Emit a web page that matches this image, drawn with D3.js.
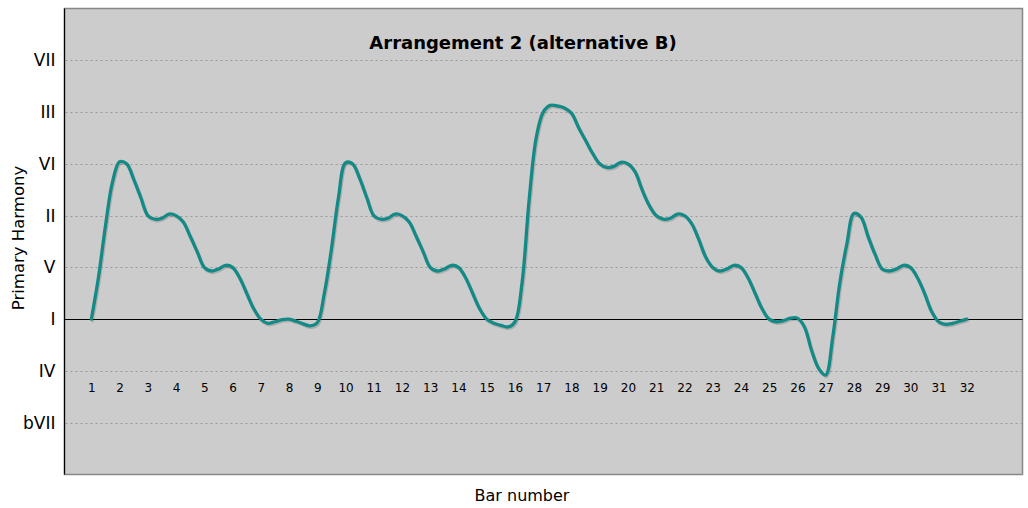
<!DOCTYPE html>
<html><head><meta charset="utf-8">
<script src="https://cdn.jsdelivr.net/npm/d3@7"></script>
<style>body{margin:0;background:#fff;} svg{display:block;}</style>
</head><body>
<svg id="c" width="1028" height="508"></svg>
<script>
const title = "Arrangement 2 (alternative B)";
const yTickValues = [-2, -1, 0, 1, 2, 3, 4, 5];
const yTickLabels = ["bVII", "IV", "I", "V", "II", "VI", "III", "VII"];
const barNumbers = d3.range(1, 33);
// harmony value sampled every quarter bar, starting at bar 1
const harmony = [
  0, 0.8, 1.8, 2.65,         // 1
  3.04, 3.0, 2.7, 2.35,      // 2
  2.0, 1.93, 1.95, 2.03,     // 3
  2.0, 1.88, 1.6, 1.3,       // 4
  1.0, 0.93, 0.97, 1.04,     // 5
  1.0, 0.8, 0.5, 0.2,        // 6
  0.0, -0.08, -0.05, -0.01,  // 7
  0.0, -0.04, -0.09, -0.13,  // 8
  -0.07, 0.5, 1.35, 2.35,    // 9
  3.02, 3.0, 2.72, 2.35,     // 10
  2.0, 1.93, 1.95, 2.03,     // 11
  2.0, 1.88, 1.6, 1.3,       // 12
  1.0, 0.93, 0.97, 1.04,     // 13
  1.0, 0.8, 0.5, 0.2,        // 14
  0.0, -0.08, -0.12, -0.15,  // 15
  -0.05, 0.7, 2.3, 3.5,      // 16
  4.0, 4.13, 4.12, 4.08,     // 17
  3.98, 3.7, 3.45, 3.2,      // 18
  3.0, 2.93, 2.95, 3.03,     // 19
  3.0, 2.85, 2.5, 2.2,       // 20
  2.0, 1.93, 1.95, 2.03,     // 21
  2.0, 1.85, 1.55, 1.2,      // 22
  1.0, 0.93, 0.97, 1.04,     // 23
  1.0, 0.8, 0.5, 0.2,        // 24
  0.0, -0.05, -0.03, 0.02,   // 25
  0.02, -0.15, -0.6, -0.95,  // 26
  -1.08, -0.35, 0.7, 1.45,   // 27
  2.04, 1.97, 1.6, 1.25,     // 28
  0.97, 0.93, 0.97, 1.04,    // 29
  1.0, 0.8, 0.5, 0.15,       // 30
  -0.05, -0.1, -0.08, -0.04, // 31
  0.0                        // 32
];
const data = harmony.map((v, i) => ({bar: 1 + i / 4, v}));

const FONT = "DejaVu Sans, Verdana, sans-serif";
const svg = d3.select("#c");
const L = 64.5, R = 1022.5, T = 8.5, B = 474.5;
const x = d3.scaleLinear().domain([0.05, 33.97]).range([L, R]);
const y = d3.scaleLinear().domain([-3, 6]).range([B, T]);

svg.append("rect").attr("x", L).attr("y", T).attr("width", R - L).attr("height", B - T)
  .attr("fill", "#cccccc").attr("stroke", "#888").attr("stroke-width", 1.5);

// grid
const grid = svg.append("g");
grid.selectAll("line").data(yTickValues.filter(d => d !== 0)).join("line")
  .attr("x1", L + 1).attr("x2", R - 1)
  .attr("y1", d => Math.round(y(d)) + 0.5).attr("y2", d => Math.round(y(d)) + 0.5)
  .attr("stroke", "#999").attr("stroke-width", 1).attr("stroke-dasharray", "2,3");
svg.append("line").attr("x1", L).attr("x2", R)
  .attr("y1", Math.round(y(0)) + 0.5).attr("y2", Math.round(y(0)) + 0.5)
  .attr("stroke", "#000").attr("stroke-width", 1);
// left border black
svg.append("line").attr("x1", L).attr("x2", L).attr("y1", T).attr("y2", B)
  .attr("stroke", "#000").attr("stroke-width", 1.2);

// y axis labels
const yAxis = d3.axisLeft(y).tickValues(yTickValues)
  .tickFormat((d, i) => yTickLabels[i]).tickSize(0).tickPadding(9);
const gy = svg.append("g").attr("transform", `translate(${L},0)`).call(yAxis);
gy.select(".domain").remove();
gy.selectAll("text").attr("font-family", FONT).attr("font-size", 17).attr("fill", "#000");

// x tick labels inside plot
const xAxis = d3.axisBottom(x).tickValues(barNumbers).tickFormat(d3.format("d")).tickSize(0).tickPadding(0);
const gx = svg.append("g").attr("transform", `translate(0,383)`).call(xAxis);
gx.select(".domain").remove();
gx.selectAll("text").attr("font-family", FONT).attr("font-size", 12).attr("fill", "#000");

// line with soft shadow
const line = d3.line().x(d => x(d.bar)).y(d => y(d.v)).curve(d3.curveCatmullRom.alpha(0.5));
svg.append("path").datum(data).attr("d", line).attr("fill", "none")
  .attr("stroke", "rgba(0,0,0,0.15)").attr("stroke-width", 3.4)
  .attr("transform", "translate(1,1.5)").attr("stroke-linejoin", "round").attr("stroke-linecap", "round");
svg.append("path").datum(data).attr("d", line).attr("fill", "none")
  .attr("stroke", "#148a86").attr("stroke-width", 3.3).attr("stroke-linejoin", "round").attr("stroke-linecap", "round");

// title
svg.append("text").attr("x", 523).attr("y", 49).attr("text-anchor", "middle")
  .attr("font-family", FONT).attr("font-weight", "bold").attr("font-size", 18).text(title);

// axis titles
svg.append("text").attr("x", 522).attr("y", 501).attr("text-anchor", "middle")
  .attr("font-family", FONT).attr("font-size", 16).text("Bar number");
svg.append("text").attr("transform", "translate(24,238) rotate(-90)").attr("text-anchor", "middle")
  .attr("font-family", FONT).attr("font-size", 16.5).text("Primary Harmony");
</script>
</body></html>
